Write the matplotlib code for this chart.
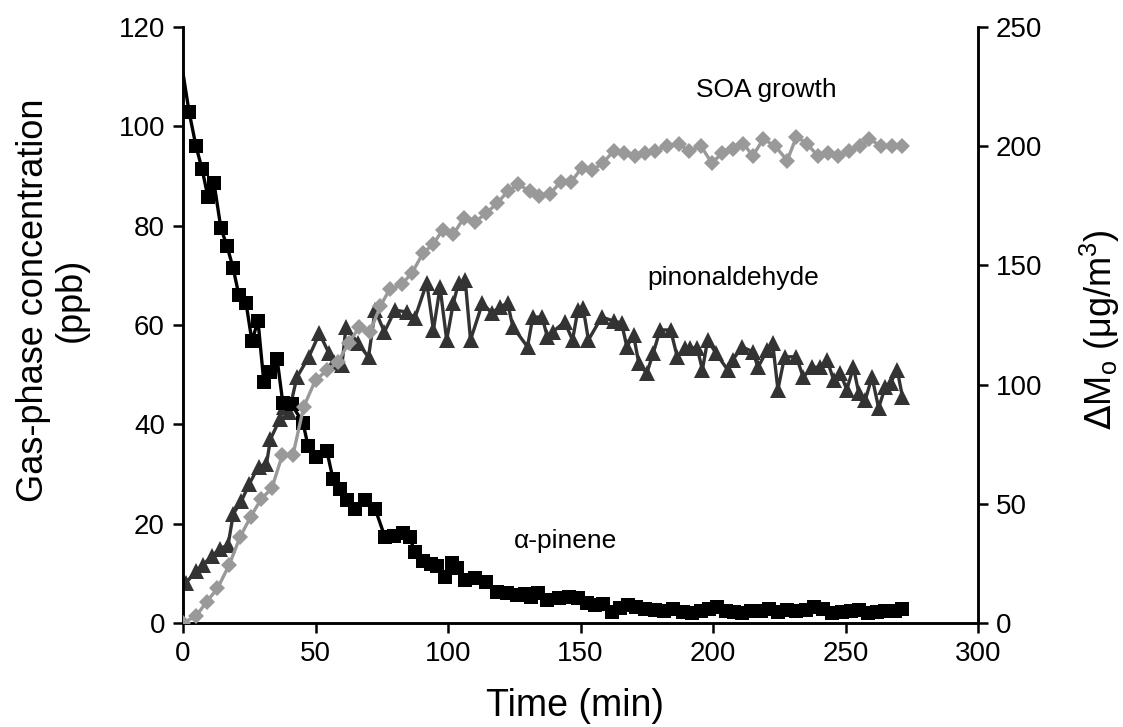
import matplotlib
matplotlib.use("Agg")
import matplotlib.pyplot as plt

plt.rcParams['font.family'] = ['Liberation Sans', 'DejaVu Sans']

# alpha-pinene (ppb, left axis)
t_ap = [0, 2.3, 4.9, 7.2, 9.4, 11.7, 14.3, 16.6, 18.9, 21.1,
        23.8, 26, 28.3, 30.5, 32.8, 35.5, 37.7, 41, 45.3, 47.2,
        50.3, 54.3, 56.6, 59.2, 62, 65, 68.5, 72.5, 76.2, 79.5,
        83, 85.5, 87.5, 90.5, 93.5, 96, 99, 101.5, 103.5, 106.5,
        110, 114.5, 118.5, 122.3, 126, 129, 131.5, 134, 137.5, 142,
        145.5, 149, 152.5, 155.5, 158.5, 162, 165, 168, 171, 174.5,
        178, 181.5, 185, 188.5, 192, 195.5, 198.5, 201.5, 205, 208,
        211, 214.5, 218, 221, 224.5, 228, 231.5, 235, 238, 241.5,
        245, 248.5, 252, 255, 258.5, 262, 265, 268.5, 271.5]
v_ap = [110.7, 102.9, 96, 91.4, 85.8, 88.6, 79.5, 75.9, 71.5, 66,
        64.4, 56.8, 60.8, 48.5, 50.5, 53.2, 44.2, 44.0, 40.3, 35.6,
        33.4, 34.6, 29, 27, 24.8, 23, 24.8, 23, 17.3, 17.5,
        18.2, 17.3, 14.3, 12.5, 11.8, 11.5, 9.3, 12.1, 11.0, 8.7,
        9.1, 8.3, 6.2, 6, 5.6, 5.8, 5.2, 6, 4.6, 5,
        5.2, 5, 4, 3.6, 3.8, 2.2, 3, 3.6, 3.2, 2.8,
        2.6, 2.4, 2.8, 2.2, 2, 2.4, 2.8, 3.2, 2.4, 2.2,
        2, 2.4, 2.4, 2.8, 2.2, 2.6, 2.4, 2.6, 3.2, 2.8,
        2, 2.2, 2.4, 2.6, 2, 2.2, 2.4, 2.4, 2.8]

# pinonaldehyde (ppb, left axis)
t_pin = [1, 5, 7.5, 11, 14, 17, 19, 22, 25, 28.5,
         31.5, 33, 36.5, 38, 40, 43, 47.5, 51.5, 55, 57,
         60, 61.5, 66, 70, 72.5, 76, 80, 84.5, 87.5, 92,
         94.5, 97, 99.5, 102, 104, 106.5, 108.5, 113, 116.5, 119.5,
         122.5, 124.5, 130, 132, 135.5, 137.5, 139.5, 144, 147, 149,
         151, 153, 158, 162.5, 165.5, 167.5, 170, 172, 175, 177.5,
         180, 184, 186.5, 189.5, 191.5, 194, 196, 198, 201, 205.5,
         207.5, 211, 215, 217, 220.5, 222.5, 224.5, 227, 231.5, 234,
         237.5, 240.5, 243, 245.5, 248, 250.5, 253, 255, 257.5, 260,
         262.5, 265, 267, 269.5, 271.5]
v_pin = [8, 10.5, 11.7, 13.5, 15, 15.7, 22, 24.5, 28, 31.5,
         32, 37, 41, 43.5, 42.5, 49.5, 53.6, 58.3, 54.4, 52.5,
         52, 59.6, 56.4, 53.5, 63, 58.6, 63, 62.6, 61.4, 68.5,
         59, 67.6, 57, 64.4, 68.5, 69, 57, 64.4, 62.4, 63.6,
         64.4, 59.6, 55.6, 61.6, 61.6, 57.6, 58.6, 60.6, 57, 63,
         63.4, 57, 61.6, 60.8, 60.4, 55.6, 58, 52.3, 50.3, 54.4,
         59, 59, 53.6, 55.4, 55.4, 55.4, 51, 57, 54.4, 51,
         53, 55.6, 54.6, 51.5, 55, 56.4, 47, 53.6, 53.6, 49.5,
         51.5, 51.5, 53, 49, 50.3, 47, 51.5, 46.3, 45, 49.5,
         43.3, 47.5, 48.3, 51, 45.5]

# SOA growth (ug/m3, right axis)
t_soa = [0, 5, 9, 13, 17.5, 21.5, 25.5, 29.5, 33.5, 37.5,
         41.5, 45.5, 50, 54.5, 58.5, 62.5, 66.5, 70.5, 74.5, 78,
         82.5, 86.5, 90.5, 94.5, 98, 102, 106, 110, 114.5, 118.5,
         122.5, 126.5, 131, 134.5, 138.5, 142.5, 146.5, 150.5, 154.5, 158.5,
         162.5, 166.5, 170.5, 174.5, 178, 182.5, 187, 191, 195.5, 199.5,
         203.5, 207.5, 211.5, 215, 219, 223.5, 228, 231.5, 235.5, 239.5,
         243.5, 247, 251.5, 255.5, 259, 263.5, 267.5, 271.5]
m_soa = [0, 3, 9, 14.5, 24.5, 36, 44.5, 52, 56.5, 70.5,
         70.5, 90.5, 102, 106, 109.5, 117.5, 124, 122, 133, 140,
         142, 147, 155, 159, 165, 163, 170, 168, 172, 176,
         181, 184, 181, 179, 180, 185, 185, 191, 190, 193,
         198, 197, 196, 197, 198, 200, 201, 198, 200, 193,
         197, 199, 201, 196, 203, 200, 194, 204, 201, 196,
         197, 196, 198, 200, 203, 200, 200, 200]

x_ticks = [0, 50, 100, 150, 200, 250, 300]
left_ticks = [0, 20, 40, 60, 80, 100, 120]
right_ticks = [0, 50, 100, 150, 200, 250]

W, H = 1123, 727
fig = plt.figure(figsize=(W / 100, H / 100), dpi=100)
ax = fig.add_axes([183/W, 1-623/H, (978-183)/W, (623-27)/H])
ax2 = ax.twinx()

ax.plot(t_pin, v_pin, color='#333333', lw=2.4, marker='^', markersize=11.5,
        markeredgewidth=0, zorder=2)
ax.plot(t_ap, v_ap, color='black', lw=2.4, marker='s', markersize=10.5,
        markeredgewidth=0, markevery=list(range(1, len(t_ap))), zorder=3)
ax2.plot(t_soa, m_soa, color='#999999', lw=2.4, marker='D', markersize=8,
         markeredgewidth=0, zorder=3)

ax.set_xlim(0, 300)
ax.set_ylim(0, 120)
ax2.set_ylim(0, 250)
ax.set_xticks(x_ticks)
ax.set_yticks(left_ticks)
ax2.set_yticks(right_ticks)

for a in (ax, ax2):
    for s in a.spines.values():
        s.set_linewidth(1.8)
    a.tick_params(direction='out', length=7, width=1.8, labelsize=20, pad=6)
ax.spines['top'].set_visible(False)
ax2.spines['top'].set_visible(False)

fig.text(575/W, 1-706/H, 'Time (min)', fontsize=27, ha='center', va='center')
fig.text(52/W, 1-300/H, 'Gas-phase concentration\n(ppb)', fontsize=26,
         ha='center', va='center', rotation=90, multialignment='center',
         linespacing=1.1)
fig.text(1100/W, 1-330/H,
         r'$\Delta$M$_\mathregular{o}$ ($\mathregular{\mu}$g/m$^\mathregular{3}$)',
         fontsize=26, ha='center', va='center', rotation=90)

ax.text(220, 107.3, 'SOA growth', fontsize=19, ha='center', va='center')
ax.text(207.5, 69.5, 'pinonaldehyde', fontsize=19, ha='center', va='center')
ax.text(144.5, 16.5, 'α-pinene', fontsize=19, ha='center', va='center')

fig.savefig('out.png', dpi=100)
